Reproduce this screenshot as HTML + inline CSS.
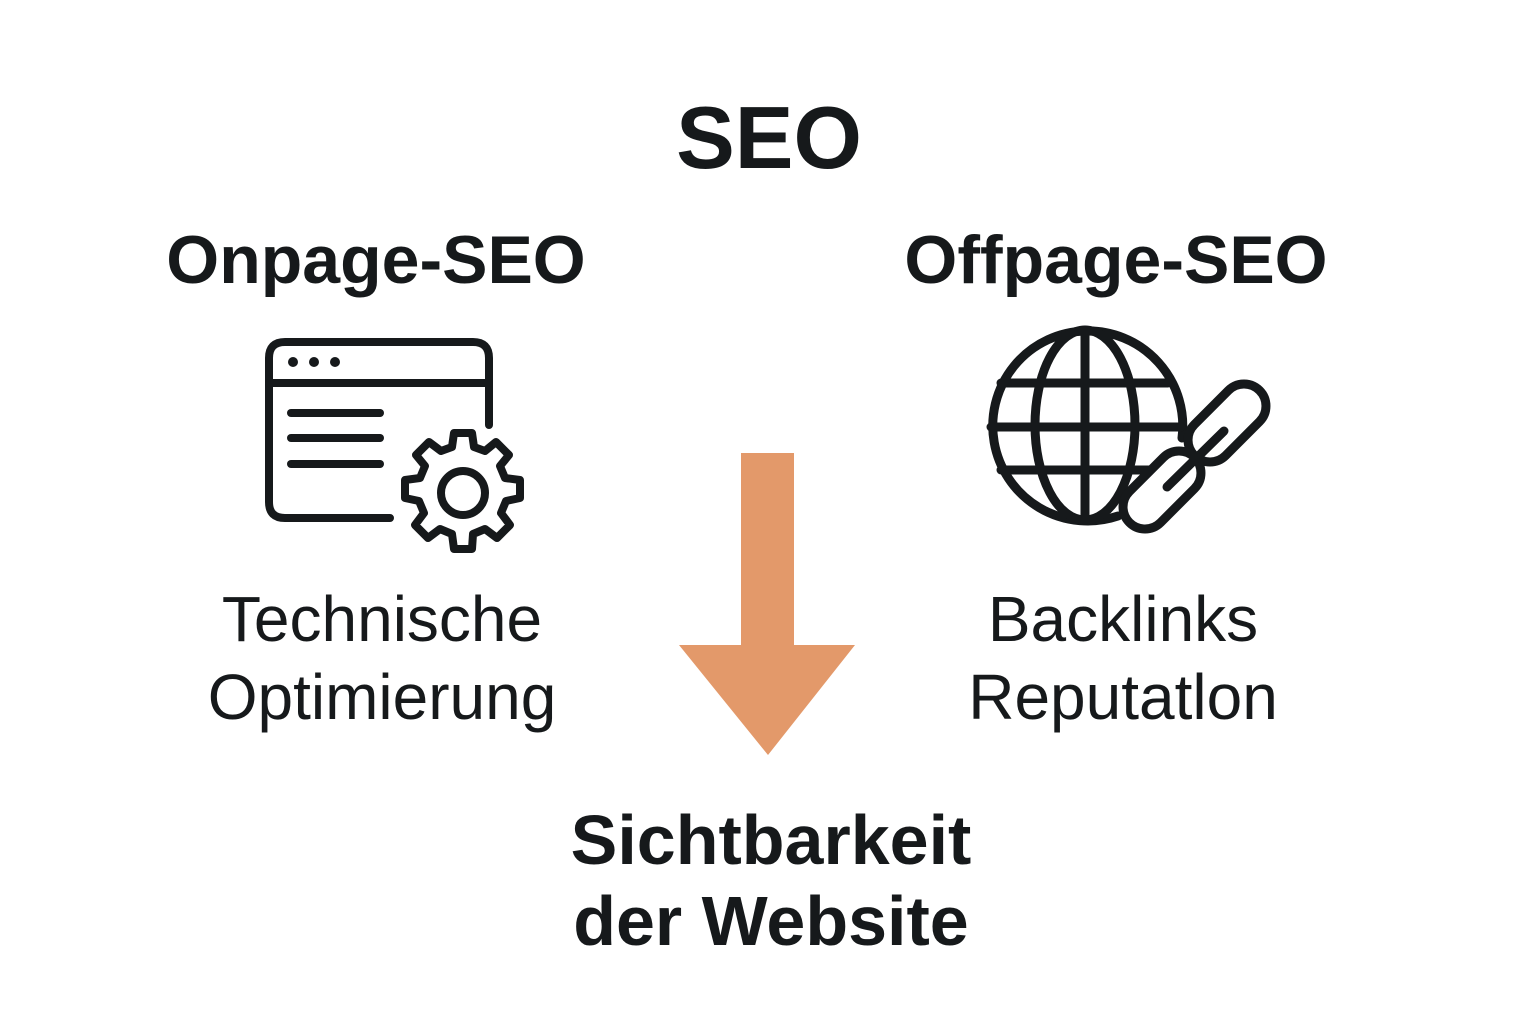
<!DOCTYPE html>
<html><head><meta charset="utf-8"><style>
html,body{margin:0;padding:0;background:#fff;}
body{width:1536px;height:1024px;position:relative;overflow:hidden;font-family:"Liberation Sans",sans-serif;color:#16191b;}
.t{position:absolute;white-space:nowrap;text-align:center;transform:translateX(-50%);line-height:1;}
</style></head><body>
<div class="t" style="left:769px;top:94px;font-size:88px;font-weight:bold;">SEO</div>
<div class="t" style="left:376px;top:226px;font-size:68px;font-weight:bold;">Onpage-SEO</div>
<div class="t" style="left:1116px;top:226px;font-size:68px;font-weight:bold;">Offpage-SEO</div>
<div class="t" style="left:382px;top:580px;font-size:64px;line-height:78px;">Technische<br>Optimierung</div>
<div class="t" style="left:1123px;top:580px;font-size:64px;line-height:78px;">Backlinks<br>Reputatlon</div>
<div class="t" style="left:771px;top:800px;font-size:70px;font-weight:bold;line-height:81px;">Sichtbarkeit<br>der Website</div>
<svg width="1536" height="1024" style="position:absolute;left:0;top:0">
<polygon points="741,453 794,453 794,645 855,645 768,755 679,645 741,645" fill="#e3996a"/>
<g fill="none" stroke="#16191b" stroke-width="8" stroke-linecap="round">
<path d="M390,518 H285 Q269,518 269,502 V358 Q269,342 285,342 H473 Q489,342 489,358 V425"/>
<line x1="269" y1="383" x2="489" y2="383"/>
<line x1="291" y1="413" x2="380" y2="413"/>
<line x1="291" y1="438" x2="380" y2="438"/>
<line x1="291" y1="464" x2="380" y2="464"/>
<circle cx="463" cy="493" r="22"/>
</g>
<g fill="#16191b"><circle cx="293" cy="362" r="5"/><circle cx="314" cy="362" r="5"/><circle cx="335" cy="362" r="5"/></g>
<g transform="translate(463,493)" fill="none" stroke="#16191b" stroke-width="8" stroke-linejoin="round">
<path d="M-9,-60 L9,-60 L11,-46 L22,-42 L33,-51 L46,-38 L37,-27 L42,-15 L57,-13 L57,5 L43,8 L38,20 L47,32 L34,45 L22,36 L10,41 L9,56 L-9,56 L-11,41 L-23,36 L-35,45 L-48,32 L-39,20 L-44,8 L-58,5 L-58,-13 L-43,-15 L-38,-27 L-47,-38 L-34,-51 L-22,-42 L-11,-46 Z"/>
</g>
<g fill="none" stroke="#16191b" stroke-width="9" stroke-linecap="round">
<path d="M1182,438 A95,95 0 1 0 1118,516"/>
<ellipse cx="1085" cy="425" rx="50" ry="95"/>
<line x1="1085" y1="330" x2="1085" y2="520"/>
<line x1="1001" y1="383" x2="1168" y2="383"/>
<line x1="991" y1="427" x2="1181" y2="427"/>
<line x1="1001" y1="470" x2="1150" y2="470"/>
<rect x="-22" y="-46" width="44" height="92" rx="22" transform="translate(1227,423) rotate(45)"/>
<rect x="-22" y="-46" width="44" height="92" rx="22" transform="translate(1162,490) rotate(45)"/>
<line x1="1167" y1="487" x2="1224" y2="431"/>
</g>
</svg>
</body></html>
